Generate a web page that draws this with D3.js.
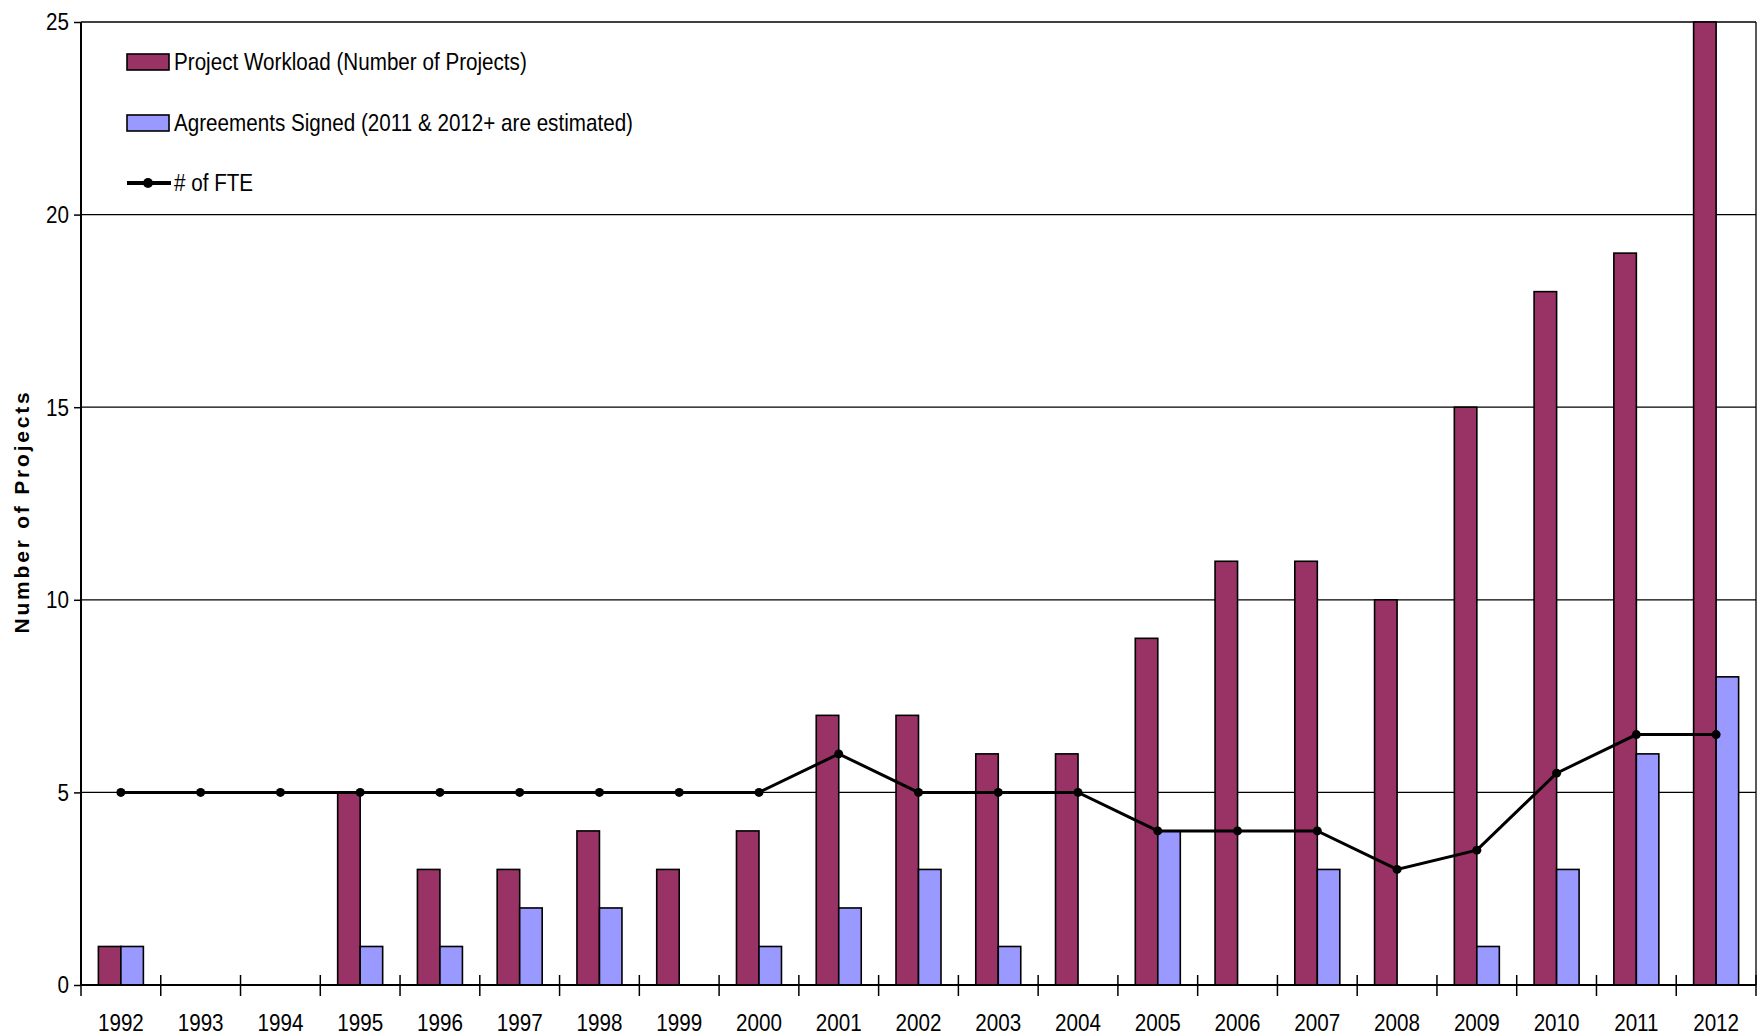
<!DOCTYPE html>
<html>
<head>
<meta charset="utf-8">
<script src="https://cdn.jsdelivr.net/npm/d3@7"></script>
<style>
  body { margin: 0; background: #fff; }
  text { font-family: "Liberation Sans", Arial, sans-serif; fill: #000; }
</style>
</head>
<body>
<svg id="chart"></svg>
<script>
// data
const years = ["1992","1993","1994","1995","1996","1997","1998","1999","2000","2001","2002",
               "2003","2004","2005","2006","2007","2008","2009","2010","2011","2012"];
const workload   = [1,0,0,5,3,3,4,3,4,7,7,6,6,9,11,11,10,15,18,19,25];
const agreements = [1,0,0,1,1,2,2,0,1,2,3,1,0,4,0,3,0,1,3,6,8];
const fte        = [5,5,5,5,5,5,5,5,5,6,5,5,5,4,4,4,3,3.5,5.5,6.5,6.5];
const yTicks = [0,5,10,15,20,25];

const seriesNames = ["Project Workload (Number of Projects)", "Agreements Signed (2011 & 2012+ are estimated)", "# of FTE"];
const colors = { workload: "#993366", agreements: "#9999ff" };

const width = 1762, height = 1036;
const margin = { top: 22, right: 6, bottom: 51, left: 81 };
const plotW = width - margin.left - margin.right;
const plotH = height - margin.top - margin.bottom;
const fontSize = 24, squeeze = 0.86;

const svg = d3.select("#chart").attr("width", width).attr("height", height);
const g = svg.append("g").attr("transform", `translate(${margin.left},${margin.top})`);

// condensed looking text, like the Arial Narrow in the original
function narrowText(sel, xf, yf) {
    return sel.attr("transform", (d, i) => `translate(${xf(d, i)},${yf(d, i)}) scale(${squeeze},1)`)
        .attr("font-size", fontSize);
}

const x = d3.scaleBand().domain(years).range([0, plotW]).padding(0);
const y = d3.scaleLinear().domain([0, 25]).range([plotH, 0]);

// two bars per year, each ~22.5px wide, centred on the band
const barW = 22.5;
const outer = (x.bandwidth() - 2 * barW) / 2 / barW;
const x1 = d3.scaleBand().domain(["workload", "agreements"])
    .range([0, x.bandwidth()]).paddingInner(0).paddingOuter(outer);

// gridlines
g.selectAll(".grid").data(yTicks.filter(d => d > 0)).enter().append("line")
    .attr("x1", 0).attr("x2", plotW)
    .attr("y1", d => y(d)).attr("y2", d => y(d))
    .attr("stroke", "#000").attr("stroke-width", 1.3);

// right border
g.append("line").attr("x1", plotW).attr("x2", plotW).attr("y1", 0).attr("y2", plotH)
    .attr("stroke", "#000").attr("stroke-width", 1.3);

const rows = years.map((yr, i) => ({ year: yr, workload: workload[i], agreements: agreements[i], fte: fte[i] }));

// bars
const grp = g.selectAll(".yr").data(rows).enter().append("g")
    .attr("transform", d => `translate(${x(d.year)},0)`);

grp.selectAll("rect").data(d => ["workload", "agreements"].map(k => ({ key: k, value: d[k] })).filter(e => e.value > 0))
    .enter().append("rect")
    .attr("x", d => x1(d.key))
    .attr("width", x1.bandwidth())
    .attr("y", d => y(d.value))
    .attr("height", d => plotH - y(d.value))
    .attr("fill", d => colors[d.key])
    .attr("stroke", "#000").attr("stroke-width", 1.6);

// FTE line
const line = d3.line().x(d => x(d.year) + x.bandwidth() / 2).y(d => y(d.fte));
g.append("path").datum(rows).attr("d", line)
    .attr("fill", "none").attr("stroke", "#000").attr("stroke-width", 3);
g.selectAll(".dot").data(rows).enter().append("circle")
    .attr("cx", d => x(d.year) + x.bandwidth() / 2)
    .attr("cy", d => y(d.fte))
    .attr("r", 4.5).attr("fill", "#000");

// y axis
const yAxis = g.append("g")
    .call(d3.axisLeft(y).tickValues(yTicks).tickSize(7).tickFormat(""));
yAxis.select(".domain").attr("stroke-width", 2).attr("d", `M0,${plotH}V0`);
yAxis.selectAll(".tick line").attr("stroke-width", 1.5);
narrowText(g.selectAll(".ylbl").data(yTicks).enter().append("text"), () => -12, d => y(d))
    .attr("text-anchor", "end").attr("dy", "0.35em")
    .text(d => d);

// x axis: ticks between categories crossing the baseline
const xAxisG = g.append("g").attr("transform", `translate(0,${plotH})`);
xAxisG.append("line").attr("x1", 0).attr("x2", plotW).attr("stroke", "#000").attr("stroke-width", 2);
const boundaries = years.map(d => x(d)).concat([plotW]);
xAxisG.selectAll(".tk").data(boundaries).enter().append("line")
    .attr("x1", d => d).attr("x2", d => d).attr("y1", -10).attr("y2", 11)
    .attr("stroke", "#000").attr("stroke-width", 1.5);
narrowText(xAxisG.selectAll(".lbl").data(years).enter().append("text"),
        d => x(d) + x.bandwidth() / 2, () => 46)
    .attr("text-anchor", "middle")
    .text(d => d);

// y title
svg.append("text")
    .attr("transform", `translate(29,${margin.top + plotH / 2 + 8}) rotate(-90)`)
    .attr("text-anchor", "middle")
    .attr("font-weight", "bold").attr("font-size", 21)
    .attr("letter-spacing", "2.8")
    .text("Number of Projects");

// legend
const legend = svg.append("g").attr("transform", "translate(127,0)");
const legY = [62, 123, 183];
legend.append("rect").attr("x", 0).attr("y", legY[0] - 8).attr("width", 42).attr("height", 16)
    .attr("fill", colors.workload).attr("stroke", "#000").attr("stroke-width", 1.6);
legend.append("rect").attr("x", 0).attr("y", legY[1] - 8).attr("width", 42).attr("height", 16)
    .attr("fill", colors.agreements).attr("stroke", "#000").attr("stroke-width", 1.6);
legend.append("line").attr("x1", 0).attr("x2", 44).attr("y1", legY[2]).attr("y2", legY[2])
    .attr("stroke", "#000").attr("stroke-width", 4);
legend.append("circle").attr("cx", 21).attr("cy", legY[2]).attr("r", 5).attr("fill", "#000");
narrowText(legend.selectAll(".lt").data(seriesNames).enter().append("text"), () => 47, (d, i) => legY[i])
    .attr("dy", "0.35em")
    .text(d => d);
</script>
</body>
</html>
